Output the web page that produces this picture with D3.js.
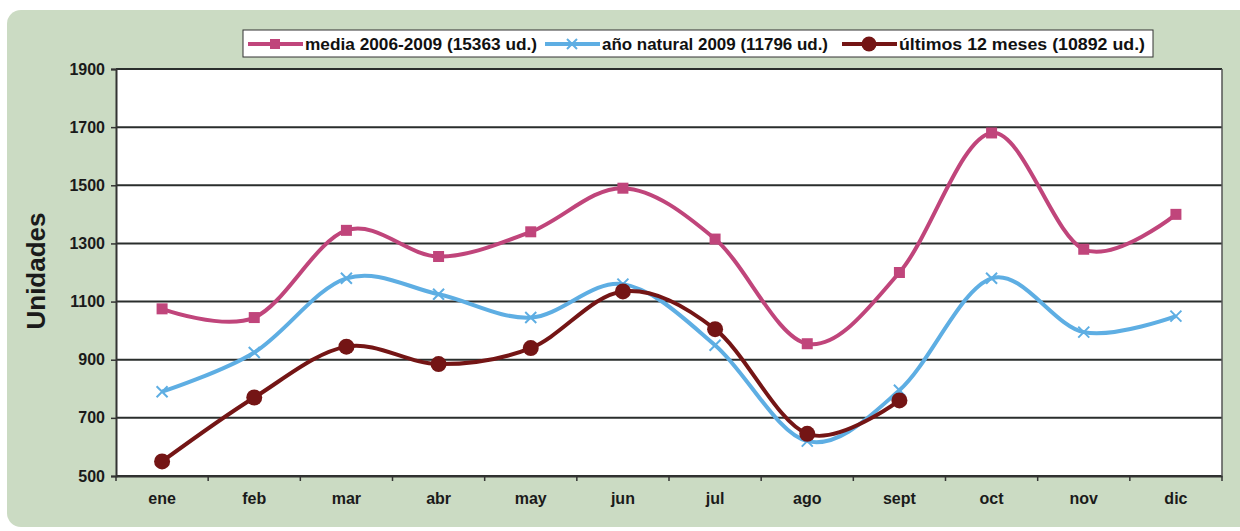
<!DOCTYPE html>
<html>
<head>
<meta charset="utf-8">
<title>Unidades por mes</title>
<script src="https://d3js.org/d3.v7.min.js"></script>
<style>
body { margin: 0; background: #fff; font-family: "Liberation Sans", Arial, sans-serif; }
</style>
</head>
<body>
<script>
// data
var months = ["ene", "feb", "mar", "abr", "may", "jun", "jul", "ago", "sept", "oct", "nov", "dic"];
var media = [1075, 1045, 1345, 1255, 1340, 1490, 1315, 955, 1200, 1680, 1280, 1400];
var anoNatural = [790, 925, 1180, 1125, 1045, 1160, 950, 620, 795, 1180, 995, 1050];
var ultimos = [550, 770, 945, 885, 940, 1135, 1005, 645, 760];
var yTicks = [500, 700, 900, 1100, 1300, 1500, 1700, 1900];
var legendLabels = ["media 2006-2009 (15363 ud.)", "año natural 2009 (11796 ud.)", "últimos 12 meses (10892 ud.)"];

var width = 1240, height = 531;
// plot box (don't call these top/left: window.top is taken)
var pL = 116, pR = 1222, pT = 69, pB = 476;
var font = "Liberation Sans Narrow, Liberation Sans, Arial, sans-serif";

var svg = d3.select("body").append("svg")
  .attr("width", width).attr("height", height);

// green panel
svg.append("rect")
  .attr("x", 7).attr("y", 10).attr("width", 1250).attr("height", 517)
  .attr("rx", 14).attr("fill", "#cbdbc3");

var x = d3.scaleBand().domain(months).range([pL, pR]);
var y = d3.scaleLinear().domain([500, 1900]).range([pB, pT]);

// plot area
svg.append("rect")
  .attr("x", pL).attr("y", pT).attr("width", pR - pL).attr("height", pB - pT)
  .attr("fill", "#fff");

// gridlines
svg.append("g").selectAll("line")
  .data(yTicks)
  .enter().append("line")
  .attr("x1", pL).attr("x2", pR)
  .attr("y1", d => y(d)).attr("y2", d => y(d))
  .attr("stroke", "#2a2e2c").attr("stroke-width", 2);

// y axis
var yAxis = svg.append("g")
  .attr("transform", "translate(" + pL + ",0)")
  .call(d3.axisLeft(y).tickValues(yTicks).tickSize(5).tickPadding(6).tickFormat(d3.format("d")));
yAxis.select(".domain").attr("stroke", "#333").attr("stroke-width", 2);
yAxis.selectAll(".tick line").attr("stroke", "#333").attr("stroke-width", 1.5);
yAxis.selectAll("text").attr("font-size", 16).attr("font-weight", "bold").attr("fill", "#1a1a1a")
  .attr("font-family", "Liberation Sans, Arial, sans-serif");

// x axis
var xAxis = svg.append("g")
  .attr("transform", "translate(0," + pB + ")")
  .call(d3.axisBottom(x).tickSize(0).tickPadding(17));
xAxis.select(".domain").attr("stroke", "#333").attr("stroke-width", 2);
xAxis.selectAll("text").attr("font-size", 16).attr("font-weight", "bold").attr("fill", "#1a1a1a")
  .attr("font-family", "Liberation Sans, Arial, sans-serif");
// x ticks at category boundaries
svg.append("g").selectAll("line")
  .data(months.concat(["end"]))
  .enter().append("line")
  .attr("x1", (d, i) => pL + i * x.step()).attr("x2", (d, i) => pL + i * x.step())
  .attr("y1", pB).attr("y2", pB + 5)
  .attr("stroke", "#333").attr("stroke-width", 1.5);

// right border of plot
svg.append("line")
  .attr("x1", pR).attr("x2", pR).attr("y1", pT).attr("y2", pB)
  .attr("stroke", "#555").attr("stroke-width", 1.5);

// axis title
svg.append("text")
  .attr("transform", "translate(45,271) rotate(-90)")
  .attr("text-anchor", "middle")
  .attr("font-size", 26).attr("font-weight", "bold").attr("fill", "#1a1a1a")
  .text("Unidades");

var cx = m => x(m) + x.bandwidth() / 2;
var line = d3.line()
  .x((d, i) => cx(months[i]))
  .y(d => y(d))
  .curve(d3.curveCardinal.tension(0));

var series = [
  { vals: media, color: "#c0457b", marker: "square" },
  { vals: anoNatural, color: "#5eaee3", marker: "cross" },
  { vals: ultimos, color: "#741515", marker: "circle" }
];

function drawMarker(g, type, px, py, color, sz) {
  if (type === "square") {
    g.append("rect").attr("x", px - sz).attr("y", py - sz).attr("width", 2 * sz).attr("height", 2 * sz)
      .attr("fill", color);
  } else if (type === "cross") {
    g.append("path").attr("d", "M" + (px - sz) + "," + (py - sz) + "L" + (px + sz) + "," + (py + sz) +
      "M" + (px - sz) + "," + (py + sz) + "L" + (px + sz) + "," + (py - sz))
      .attr("stroke", color).attr("stroke-width", 2).attr("fill", "none");
  } else {
    g.append("circle").attr("cx", px).attr("cy", py).attr("r", sz + 2.5).attr("fill", color);
  }
}

series.forEach(function(s) {
  var g = svg.append("g");
  g.append("path").attr("d", line(s.vals))
    .attr("fill", "none").attr("stroke", s.color).attr("stroke-width", 4);
  s.vals.forEach(function(v, i) {
    drawMarker(g, s.marker, cx(months[i]), y(v), s.color, 5.5);
  });
});

// legend
var lg = svg.append("g");
lg.append("rect").attr("x", 243).attr("y", 30).attr("width", 910).attr("height", 27)
  .attr("fill", "#fff").attr("stroke", "#333").attr("stroke-width", 1);
var lx = [248, 545, 842];
var lw = [232, 226, 246];
legendLabels.forEach(function(t, i) {
  var s = series[i];
  lg.append("line").attr("x1", lx[i]).attr("x2", lx[i] + 55).attr("y1", 44).attr("y2", 44)
    .attr("stroke", s.color).attr("stroke-width", 4);
  drawMarker(lg, s.marker, lx[i] + 27, 44, s.color, 5);
  lg.append("text").attr("x", lx[i] + 57).attr("y", 50)
    .attr("font-size", 17).attr("font-weight", "bold").attr("fill", "#111")
    .attr("font-family", font)
    .attr("textLength", lw[i]).attr("lengthAdjust", "spacingAndGlyphs")
    .text(t);
});
</script>
</body>
</html>
